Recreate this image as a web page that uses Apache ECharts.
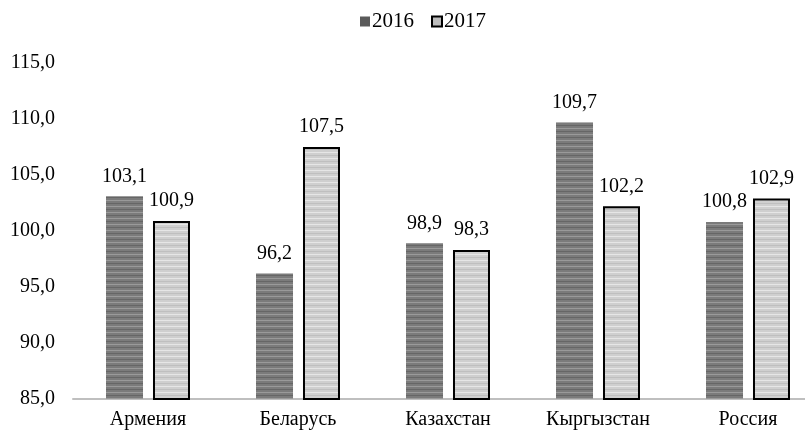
<!DOCTYPE html>
<html>
<head>
<meta charset="utf-8">
<script src="https://cdn.jsdelivr.net/npm/echarts@6/dist/echarts.min.js"></script>
<style>
html,body{margin:0;padding:0;background:#fff;overflow:hidden;width:805px;height:431px;}
#c{width:860px;height:431px;}
</style>
</head>
<body>
<div id="c"></div>
<script>
const categories = ['Армения', 'Беларусь', 'Казахстан', 'Кыргызстан', 'Россия'];
const seriesNames = ['2016', '2017'];
const values2016 = [103.1, 96.2, 98.9, 109.7, 100.8];
const values2017 = [100.9, 107.5, 98.3, 102.2, 102.9];
const yTicks = [85, 90, 95, 100, 105, 110, 115];

function stripe(base, light, dark) {
  const c = document.createElement('canvas');
  c.width = 8; c.height = 12;
  const g = c.getContext('2d');
  g.fillStyle = base; g.fillRect(0, 0, 8, 12);
  g.fillStyle = light; g.fillRect(0, 2, 8, 1); g.fillRect(0, 8, 8, 1);
  g.fillStyle = dark; g.fillRect(0, 5, 8, 1); g.fillRect(0, 11, 8, 1);
  return c;
}
const darkPat = { image: stripe('#7b7b7b', '#9a9a9a', '#666666'), repeat: 'repeat' };
const lightPat = { image: stripe('#cfcfcf', '#e6e6e6', '#bfbfbf'), repeat: 'repeat' };

const fmt = v => v.toFixed(1).replace('.', ',');
const font = '"Liberation Serif", "Times New Roman", serif';

const chart = echarts.init(document.getElementById('c'), null, { renderer: 'canvas' });
chart.setOption({
  animation: false,
  backgroundColor: '#fff',
  textStyle: { fontFamily: font, color: '#000' },
  legend: {
    top: 6, left: 355,
    itemGap: 17, itemWidth: 10, itemHeight: 10,
    textStyle: { fontFamily: font, fontSize: 21, color: '#000', padding: [0, 0, 0, -3] },
    data: [
      { name: seriesNames[0], icon: 'rect', itemStyle: { color: '#5a5a5a', borderWidth: 0 } },
      { name: seriesNames[1], icon: 'rect', itemStyle: { color: '#bdbdbd', borderColor: '#000', borderWidth: 2 } }
    ]
  },
  grid: { left: 73, top: 63, width: 750, height: 336 },
  xAxis: {
    type: 'category', data: categories,
    axisLine: { lineStyle: { color: '#bfbfbf', width: 2 } },
    axisTick: { show: false },
    axisLabel: { fontFamily: font, fontSize: 20, color: '#000', margin: 11 }
  },
  yAxis: {
    type: 'value', min: yTicks[0], max: yTicks[yTicks.length - 1], interval: 5,
    axisLine: { show: false }, axisTick: { show: false },
    splitLine: { show: false },
    axisLabel: { fontFamily: font, fontSize: 20, color: '#000', margin: 18, formatter: v => fmt(v) }
  },
  series: [
    {
      name: seriesNames[0], type: 'bar', data: values2016,
      barWidth: 37, barGap: '27%',
      itemStyle: { color: darkPat },
      label: { show: true, position: 'top', distance: 10, fontFamily: font, fontSize: 20, color: '#000', formatter: p => fmt(p.value) }
    },
    {
      name: seriesNames[1], type: 'bar', data: values2017,
      barWidth: 37,
      itemStyle: { color: lightPat, borderColor: '#000', borderWidth: 2 },
      label: { show: true, position: 'top', distance: 10, fontFamily: font, fontSize: 20, color: '#000', formatter: p => fmt(p.value) }
    }
  ]
});
</script>
</body>
</html>
